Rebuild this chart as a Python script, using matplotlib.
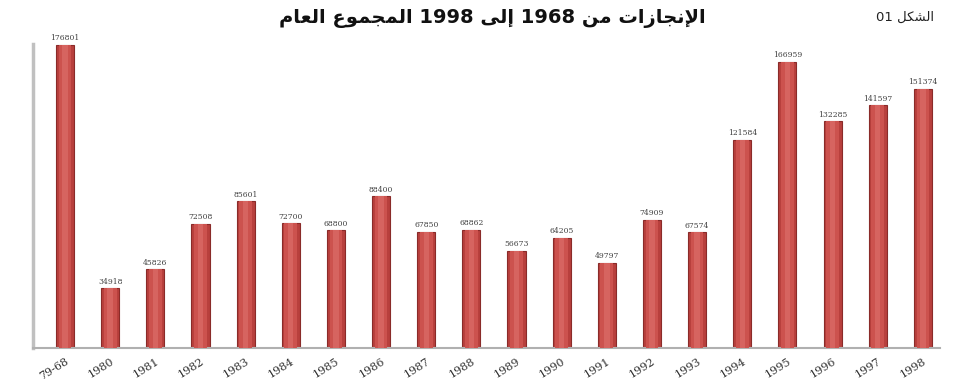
import matplotlib
matplotlib.use("Agg")
import matplotlib.pyplot as plt
import matplotlib.transforms as mtransforms

categories = ["79-68", "1980", "1981", "1982", "1983", "1984", "1985", "1986", "1987", "1988",
              "1989", "1990", "1991", "1992", "1993", "1994", "1995", "1996", "1997", "1998"]
values = [176801, 34918, 45826, 72508, 85601, 72700, 68800, 88400, 67850, 68862,
          56673, 64205, 49797, 74909, 67574, 121584, 166959, 132285, 141597, 151374]

title_text = "الإنجازات من 1968 إلى 1998 المجموع العام"
figure_label = "الشكل 01"

# --- minimal Arabic shaping (presentation forms) + visual reordering ---
FORMS = {  # iso, fin, ini, med
    'ا': ('\uFE8D', '\uFE8E', None, None),
    'إ': ('\uFE87', '\uFE88', None, None),
    'ت': ('\uFE95', '\uFE96', '\uFE97', '\uFE98'),
    'ج': ('\uFE9D', '\uFE9E', '\uFE9F', '\uFEA0'),
    'ز': ('\uFEAF', '\uFEB0', None, None),
    'ش': ('\uFEB5', '\uFEB6', '\uFEB7', '\uFEB8'),
    'ع': ('\uFEC9', '\uFECA', '\uFECB', '\uFECC'),
    'ك': ('\uFED9', '\uFEDA', '\uFEDB', '\uFEDC'),
    'ل': ('\uFEDD', '\uFEDE', '\uFEDF', '\uFEE0'),
    'م': ('\uFEE1', '\uFEE2', '\uFEE3', '\uFEE4'),
    'ن': ('\uFEE5', '\uFEE6', '\uFEE7', '\uFEE8'),
    'و': ('\uFEED', '\uFEEE', None, None),
    'ى': ('\uFEEF', '\uFEF0', None, None),
}
LAMALEF = {'ا': ('\uFEFB', '\uFEFC'), 'إ': ('\uFEF9', '\uFEFA')}


def dual(ch):
    f = FORMS.get(ch)
    return f is not None and f[2] is not None


def shape_word(w):
    units = []
    i = 0
    while i < len(w):
        if w[i] == 'ل' and i + 1 < len(w) and w[i + 1] in LAMALEF:
            units.append(('LA', w[i + 1]))
            i += 2
        else:
            units.append(('C', w[i]))
            i += 1
    out = []
    for k, (kind, ch) in enumerate(units):
        prev_join = k > 0 and units[k - 1][0] == 'C' and dual(units[k - 1][1])
        if kind == 'LA':
            iso, fin = LAMALEF[ch]
            out.append(fin if prev_join else iso)
            continue
        if ch not in FORMS:
            out.append(ch)
            continue
        iso, fin, ini, med = FORMS[ch]
        next_join = dual(ch) and k + 1 < len(units)
        if prev_join and next_join:
            out.append(med)
        elif prev_join:
            out.append(fin)
        elif next_join:
            out.append(ini)
        else:
            out.append(iso)
    return ''.join(out)


def visual(text):
    words = text.split(' ')
    vis = []
    for w in reversed(words):
        if any('\u0600' <= c <= '\u06FF' for c in w):
            vis.append(shape_word(w)[::-1])
        else:
            vis.append(w)
    return ' '.join(vis)


fig = plt.figure(figsize=(9.56, 3.85), dpi=100)
ax = fig.add_axes([33 / 956, 37 / 385, (940 - 33) / 956, (348 - 39.5) / 385])

x = list(range(len(categories)))
ax.bar(x, values, width=0.40, color='#B8403D', edgecolor='#8A2B29', linewidth=0.8, zorder=2)
ax.bar(x, values, width=0.28, color='#CC524E', linewidth=0, zorder=3)
ax.bar(x, values, width=0.12, color='#D66460', linewidth=0, zorder=4)

for xi, v in zip(x, values):
    ax.text(xi, v + 1500, str(v), ha='center', va='bottom', fontsize=5.5,
            color='#404040', family='DejaVu Serif')

ax.set_xlim(-0.71, 19.38)
ax.set_ylim(0, 180000)
ax.set_yticks([])
ax.set_xticks(x)
ax.set_xticklabels(categories, rotation=32, ha='right', rotation_mode='anchor',
                   fontsize=8, color='#303030', family='DejaVu Serif')
offset = mtransforms.ScaledTranslation(-4 / 72, 0, fig.dpi_scale_trans)
for lab in ax.get_xticklabels():
    lab.set_transform(lab.get_transform() + offset)
ax.tick_params(axis='x', length=0, pad=6)

for s in ['top', 'right']:
    ax.spines[s].set_visible(False)
ax.spines['left'].set_color('#C0C0C0')
ax.spines['left'].set_linewidth(2.5)
ax.spines['left'].set_bounds(0, 177500)
ax.spines['bottom'].set_color('#B0B0B0')
ax.spines['bottom'].set_linewidth(1.5)

fig.text(492 / 956, 1 - 18 / 385, visual(title_text), ha='center', va='center',
         fontsize=14, fontweight='bold', color='#111111', family='DejaVu Sans')
fig.text(905 / 956, 1 - 17 / 385, visual(figure_label), ha='center', va='center',
         fontsize=9.5, color='#222222', family='DejaVu Sans')

fig.savefig('out.png', dpi=100)
